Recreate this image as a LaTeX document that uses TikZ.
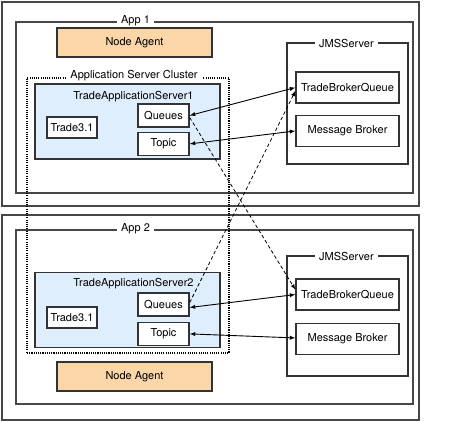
\documentclass[tikz,border=0pt]{standalone}
\usepackage{fontspec}
\setmainfont{TeX Gyre Heros}
\usetikzlibrary{positioning,arrows}

\definecolor{agentfill}{RGB}{250,214,168}
\definecolor{serverfill}{RGB}{222,238,252}

\begin{document}
\begin{tikzpicture}[x=1pt, y=-1pt,
		font=\fontsize{11}{13}\selectfont,
		frame/.style={rectangle, draw=black!72, line width=1.3pt, inner sep=0pt},
		title/.style={fill=white, inner xsep=4pt, inner ysep=1pt},
		box/.style={rectangle, draw=black!80, line width=1.4pt, fill=white,
			inner sep=0pt, text centered},
		agent/.style={box, fill=agentfill, minimum width=155pt, minimum height=29pt},
		server/.style={box, fill=serverfill, minimum width=185pt, minimum height=75pt},
		app/.style={box, minimum width=50pt, minimum height=21pt},
		dest/.style={box, minimum width=51pt, minimum height=23pt},
		jmsbox/.style={box, minimum width=103pt, minimum height=31pt},
		cluster/.style={rectangle, draw=black, line width=1.1pt, dash pattern=on 1.1pt off 1.1pt},
		link/.style={latex-latex, line width=0.9pt},
		cross/.style={-latex, line width=0.8pt, dash pattern=on 3.5pt off 2.5pt}
]
\useasboundingbox (0,0) rectangle (475,422);

% App 1
\node [frame, minimum width=417pt, minimum height=204pt] (Outer1) at (210.5,104) {};
\node [frame, minimum width=397pt, minimum height=171pt] (App1) at (214.5,107.5) {};
\node [title] (App1Title) at (135.5,20.5) {App 1};
\node [agent] (Agent1) at (134.5,42.5) {Node Agent};

\node [frame, draw=black!80, minimum width=121pt, minimum height=121pt] (JMS1) at (347.5,103.5) {};
\node [title] (JMS1Title) at (346.5,43) {JMSServer};
\node [jmsbox, below=29pt of JMS1.north] (Queue1) {TradeBrokerQueue};
\node [jmsbox, below=11pt of Queue1] (Broker1) {Message Broker};

% App 2
\node [frame, minimum width=417pt, minimum height=205pt] (Outer2) at (210.5,317.5) {};
\node [frame, minimum width=397pt, minimum height=174pt] (App2) at (214.5,317) {};
\node [title] (App2Title) at (135.5,229) {App 2};
\node [agent] (Agent2) at (134.5,376.5) {Node Agent};

\node [frame, draw=black!80, minimum width=121pt, minimum height=120pt] (JMS2) at (347.5,316) {};
\node [title] (JMS2Title) at (346.5,256) {JMSServer};
\node [jmsbox, below=23pt of JMS2.north] (Queue2) {TradeBrokerQueue};
\node [jmsbox, below=12pt of Queue2] (Broker2) {Message Broker};

% cluster
\node [cluster, minimum width=202pt, minimum height=275pt] (Cluster) at (128,215.5) {};
\node [title] (ClusterTitle) at (134,75.5) {Application Server Cluster};

\node [server] (Server1) at (127.5,121.5) {};
\node (Server1Title) at ([xshift=6pt, yshift=-13pt]Server1.north) {TradeApplicationServer1};
\node [app] (Trade1) at (72,127.5) {Trade3.1};
\node [dest] (Queues1) at (163.5,115.5) {Queues};
\node [dest, below=4pt of Queues1] (Topic1) {Topic};

\node [server] (Server2) at (127.5,310) {};
\node (Server2Title) at ([xshift=6pt, yshift=-12pt]Server2.north) {TradeApplicationServer2};
\node [app] (Trade2) at (72,317.5) {Trade3.1};
\node [dest] (Queues2) at (163.5,304.5) {Queues};
\node [dest, below=5pt of Queues2] (Topic2) {Topic};

% connections
\draw [link] (Queues1.east) -- (Queue1.west);
\draw [link] (Topic1.east) -- (Broker1.west);
\draw [link] ([yshift=-3pt]Queues2.east) -- (Queue2.west);
\draw [link] (Topic2.east) -- ([yshift=1pt]Broker2.west);
\draw [cross] ([yshift=-2pt]Queues1.east) -- ([yshift=5pt]Queue2.west);
\draw [cross] ([yshift=2pt]Queues2.east) -- ([yshift=-3.5pt]Queue1.west);

\end{tikzpicture}
\end{document}
